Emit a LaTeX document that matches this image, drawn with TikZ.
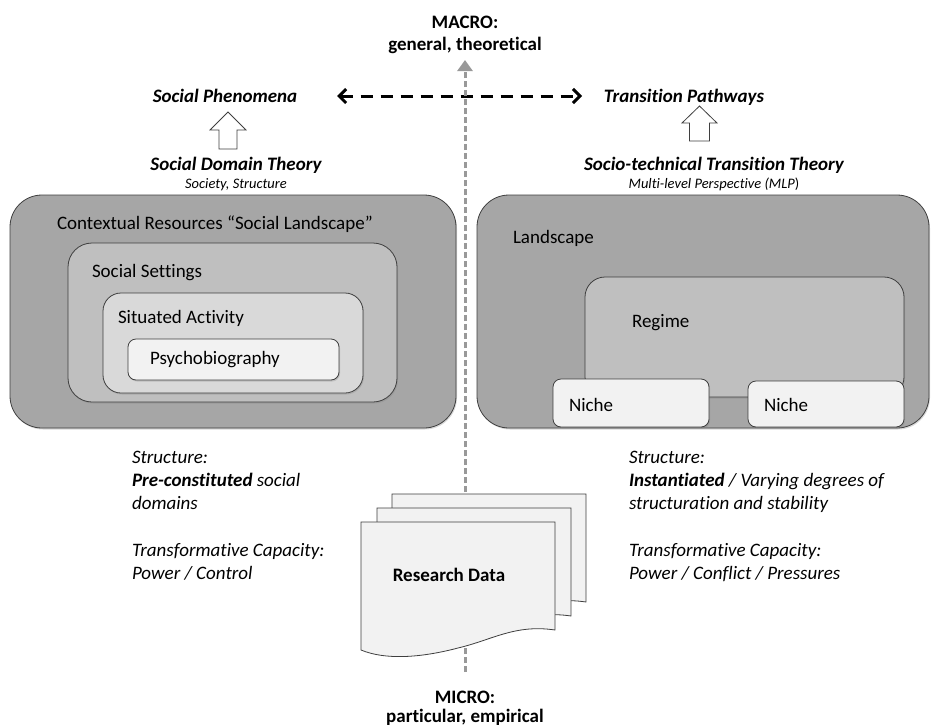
\documentclass[tikz,border=0pt]{standalone}
\usepackage{fontspec}
\setmainfont{Carlito}[Ligatures={NoCommon}]
\usetikzlibrary{arrows.meta,shadows}
\definecolor{gA}{HTML}{A6A6A6}
\definecolor{gB}{HTML}{BFBFBF}
\definecolor{gC}{HTML}{D9D9D9}
\definecolor{gD}{HTML}{F2F2F2}
\definecolor{edge}{HTML}{3F3F3F}
\definecolor{vgray}{HTML}{999999}
\newcommand{\bigf}{\fontsize{19}{22.7}\selectfont}
\newcommand{\smallf}{\fontsize{14.5}{17}\selectfont}
\tikzset{
  lbl/.style={inner sep=0pt, outer sep=0pt, font=\bigf},
  boxstyle/.style={draw=edge, line width=0.8pt, inner sep=0pt, outer sep=0pt,
    drop shadow={shadow xshift=1pt, shadow yshift=-1.5pt, opacity=0.3}},
  hdash/.style={line width=3pt, dash pattern=on 12pt off 8pt, black},
  vdash/.style={line width=3pt, dash pattern=on 6pt off 3pt, vgray},
  hollow/.style={draw=edge, fill=white, line width=0.8pt, line join=miter},
  page/.style={draw=edge, fill=gD, line width=0.8pt}
}
\begin{document}
\begin{tikzpicture}[x=1pt,y=-1pt]
\useasboundingbox (0,0) rectangle (931,726);

% top labels
\node[lbl, anchor=base, font=\bigf\bfseries] (macro) at (465,28) {MACRO:};
\node[lbl, anchor=base, font=\bigf\bfseries] (gen) at (465,50) {general, theoretical};
\node[lbl, anchor=base, font=\bigf\bfseries\itshape] (phen) at (225,102) {Social Phenomena};
\node[lbl, anchor=base, font=\bigf\bfseries\itshape] (trans) at (684,102) {Transition Pathways};
\node[lbl, anchor=base, font=\bigf\bfseries\itshape] (sdt) at (236,170) {Social Domain Theory};
\node[lbl, anchor=base, font=\smallf\itshape] (sdts) at (236,188) {Society, Structure};
\node[lbl, anchor=base, font=\bigf\bfseries\itshape] (stt) at (714,170) {Socio-technical Transition Theory};
\node[lbl, anchor=base, font=\smallf\itshape] (mlp) at (714,188) {Multi-level Perspective (MLP{\upshape)}};

% hollow arrows
\coordinate (la) at (228,149);
\draw[hollow] (la) ++(-9,0) -- ++(0,-19) -- ++(-9,0) -- (228,112) -- (246,130) -- ++(-9,0) -- ++(0,19) -- cycle;
\coordinate (ra) at (699.5,141);
\draw[hollow] (ra) ++(-10,0) -- ++(0,-18) -- ++(-7.5,0) -- (699.5,106) -- (717,123) -- ++(-7.5,0) -- ++(0,18) -- cycle;

% horizontal dashed arrow
\coordinate (hl) at (337,96);
\coordinate (hr) at (582,96);
\draw[hdash, {Straight Barb[length=7pt,width=14pt,line width=3pt]}-{Straight Barb[length=7pt,width=14pt,line width=3pt]}] (hl) -- (hr);

% left boxes
\node[boxstyle, fill=gA, rounded corners=32pt, minimum width=446pt, minimum height=233pt] (ctx) at (233,311.5) {};
\node[boxstyle, fill=gB, rounded corners=24pt, minimum width=329pt, minimum height=159pt] (set) at (232.5,322.5) {};
\node[boxstyle, fill=gC, rounded corners=18pt, minimum width=260pt, minimum height=100pt] (act) at (233,343) {};
\node[boxstyle, fill=gD, rounded corners=8pt, minimum width=211pt, minimum height=41pt] (psy) at (233.5,359.5) {};
\node[lbl, anchor=base west] (ctxl) at (57,229) {Contextual Resources “Social Landscape”};
\node[lbl, anchor=base west] (setl) at (92,277) {Social Settings};
\node[lbl, anchor=base west] (actl) at (118,323) {Situated Activity};
\node[lbl, anchor=base west] (psyl) at (150,364) {Psychobiography};

% right boxes
\node[boxstyle, fill=gA, rounded corners=32pt, minimum width=452pt, minimum height=233pt] (land) at (703,311.5) {};
\node[boxstyle, fill=gB, rounded corners=20pt, minimum width=319pt, minimum height=120pt] (reg) at (744.5,337) {};
\node[boxstyle, fill=gD, rounded corners=8pt, minimum width=156pt, minimum height=48pt] (n1) at (631,403) {};
\node[boxstyle, fill=gD, rounded corners=8pt, minimum width=156pt, minimum height=46pt] (n2) at (826,404) {};
\node[lbl, anchor=base west] (landl) at (513,243) {Landscape};
\node[lbl, anchor=base west] (regl) at (632,327) {Regime};
\node[lbl, anchor=base west] (n1l) at (569,411) {Niche};
\node[lbl, anchor=base west] (n2l) at (764,411) {Niche};

% lower texts
\node[lbl, anchor=north west, align=left, font=\bigf\itshape] (lt) at (132,451.6)
  {Structure:\\\textbf{Pre-constituted} social\\domains\\[24.9pt]Transformative Capacity:\\Power / Control};
\node[lbl, anchor=north west, align=left, font=\bigf\itshape] (rt) at (629,451.6)
  {Structure:\\\textbf{Instantiated} / Varying degrees of\\structuration and stability\\[24.9pt]Transformative Capacity:\\Power / Conflict / Pressures};

% vertical dashed arrow
\coordinate (vb) at (465,672);
\coordinate (vt) at (465,60);
\draw[vdash, -{Triangle[length=11pt,width=15pt]}] (vb) -- (vt);

% pages
\foreach \dx/\dy in {31/-28, 16/-14, 0/0}{
  \draw[page, shift={(\dx,\dy)}] (361,522) -- (555,522) -- (555,630)
    .. controls (515,624) and (492,640) .. (458,648)
    .. controls (420,658) and (385,660) .. (361,650) -- cycle;
}
\node[lbl, anchor=base, font=\bigf\bfseries] (rd) at (449,581) {Research Data};

% micro
\node[lbl, anchor=base, font=\bigf\bfseries] (micro) at (465,703) {MICRO:};
\node[lbl, anchor=base, font=\bigf\bfseries] (part) at (465,722) {particular, empirical};
\end{tikzpicture}
\end{document}
